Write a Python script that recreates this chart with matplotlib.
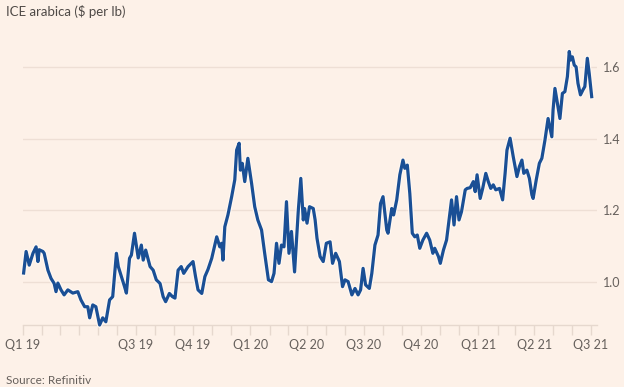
import numpy as np
import matplotlib
matplotlib.use("Agg")
import matplotlib.pyplot as plt
import matplotlib.patheffects as pe

# ---- data ----
# days since 2019-01-01
days = [1, 5, 10, 16, 21, 24, 26, 32, 34, 40, 45, 50, 53, 56, 61, 66, 72, 80, 88, 93,
        99, 104, 107, 112, 117, 123, 128, 133, 139, 144, 150, 153, 158, 163, 166, 171,
        174, 179, 185, 190, 193, 197, 204, 209, 214, 220, 225, 229, 235, 240, 244, 249,
        254, 258, 265, 273, 277, 281, 287, 292, 297, 303, 311, 316, 319, 321, 324, 329,
        335, 340, 343, 347, 349, 352, 356, 361, 367, 372, 377, 383, 388, 394, 399, 403,
        407, 411, 415, 419, 423, 427, 431, 436, 442, 446, 450, 452, 456, 460, 466, 469,
        472, 477, 482, 487, 493, 497, 502, 508, 513, 517, 522, 528, 533, 538, 542, 546,
        550, 556, 560, 565, 570, 574, 578, 584, 586, 592, 595, 600, 605, 610, 613, 617,
        621, 625, 629, 633, 637, 642, 648, 653, 658, 661, 667, 670, 675, 680, 684, 688,
        692, 696, 700, 704, 710, 713, 718, 723, 726, 729, 734, 738, 743, 747, 751, 755,
        759, 765, 770, 774, 777, 782, 787, 793, 797, 801, 804, 809, 813, 817, 819, 824,
        829, 833, 838, 843, 849, 851, 854, 858, 862, 866, 870, 874, 877, 879, 882, 885,
        888, 891, 895, 899, 902, 906, 909, 913]
price = [1.025, 1.085, 1.047, 1.080, 1.098, 1.057, 1.090, 1.085, 1.080, 1.033, 1.010,
         0.996, 0.973, 0.997, 0.978, 0.964, 0.978, 0.969, 0.973, 0.950, 0.931, 0.931,
         0.900, 0.936, 0.931, 0.880, 0.900, 0.889, 0.950, 0.959, 1.080, 1.043, 1.015,
         0.987, 0.969, 1.066, 1.075, 1.136, 1.067, 1.103, 1.061, 1.089, 1.043, 1.033,
         1.006, 0.996, 0.959, 0.945, 0.968, 0.959, 0.955, 1.033, 1.043, 1.024, 1.043,
         1.057, 1.015, 0.978, 0.968, 1.015, 1.035, 1.066, 1.126, 1.098, 1.108, 1.061,
         1.154, 1.187, 1.238, 1.285, 1.368, 1.387, 1.312, 1.331, 1.280, 1.345, 1.275,
         1.210, 1.173, 1.145, 1.080, 1.006, 1.001, 1.024, 1.108, 1.052, 1.103, 1.098,
         1.224, 1.080, 1.141, 1.028, 1.200, 1.289, 1.173, 1.205, 1.164, 1.210, 1.205,
         1.173, 1.122, 1.071, 1.057, 1.108, 1.112, 1.052, 1.080, 1.057, 0.987, 1.006,
         1.001, 0.964, 0.982, 0.964, 0.978, 1.038, 0.992, 0.982, 1.024, 1.103, 1.131,
         1.219, 1.238, 1.145, 1.136, 1.205, 1.187, 1.229, 1.299, 1.340, 1.317, 1.326,
         1.247, 1.136, 1.126, 1.131, 1.094, 1.117, 1.136, 1.117, 1.080, 1.094, 1.071,
         1.052, 1.089, 1.117, 1.173, 1.229, 1.159, 1.238, 1.173, 1.196, 1.257, 1.261,
         1.263, 1.280, 1.252, 1.299, 1.233, 1.261, 1.303, 1.280, 1.261, 1.271, 1.257,
         1.261, 1.229, 1.303, 1.368, 1.401, 1.350, 1.294, 1.322, 1.340, 1.303, 1.312,
         1.289, 1.243, 1.233, 1.285, 1.331, 1.345, 1.396, 1.456, 1.405, 1.480, 1.540,
         1.498, 1.456, 1.526, 1.531, 1.573, 1.643, 1.619, 1.628, 1.605, 1.600, 1.554,
         1.522, 1.536, 1.545, 1.624, 1.582, 1.517]

quarter_labels = ["Q1 19", "", "Q3 19", "Q4 19", "Q1 20", "Q2 20", "Q3 20", "Q4 20",
                  "Q1 21", "Q2 21", "Q3 21"]
y_ticks = [1.0, 1.2, 1.4, 1.6]
title = "ICE arabica ($ per lb)"
source = "Source: Refinitiv"

# ---- styling ----
BG = "#FDF1E8"
GRID = "#EEDFD5"
LINE = "#1A4F95"
TEXT = "#66605C"

plt.rcParams["font.family"] = ["Lato", "DejaVu Sans"]

start = np.datetime64("2019-01-01")
dates = start + np.array(days).astype("timedelta64[D]")
x_num = (dates - start).astype(int)

fig = plt.figure(figsize=(6.24, 3.87), dpi=100, facecolor=BG)
ax = fig.add_axes([23 / 624, 1 - 325 / 387, (597 - 23) / 624, (325 - 40) / 387])
ax.set_facecolor(BG)

ax.plot(x_num, price, color=LINE, lw=2.3, solid_joinstyle="round", clip_on=False,
        path_effects=[pe.Stroke(linewidth=4.0, foreground="#FFF8F2"), pe.Normal()], zorder=3)

# x axis: monthly ticks, quarterly labels
months = np.arange(np.datetime64("2019-01"), np.datetime64("2021-08"), np.timedelta64(1, "M"))
month_days = (months.astype("datetime64[D]") - start).astype(int)
ax.set_xticks(month_days)
labels = []
q_iter = iter(quarter_labels)
for m in months:
    mi = int(str(m)[5:7])
    labels.append(next(q_iter) if mi in (1, 4, 7, 10) else "")
ax.set_xticklabels(labels)
ax.set_xlim(0, (597 - 23.3) * 1.6063)
ax.set_ylim(0.880, 1.675)

ax.set_yticks(y_ticks)
ax.set_yticklabels([f"{v:.1f}" for v in y_ticks])
ax.yaxis.tick_right()
ax.grid(axis="y", color=GRID, lw=1.0)
ax.set_axisbelow(True)

for s in ["top", "left", "right"]:
    ax.spines[s].set_visible(False)
ax.spines["bottom"].set_color("#E6D8CE")
ax.spines["bottom"].set_linewidth(1.0)

ax.tick_params(axis="x", length=7, width=1, color="#E6D8CE", labelsize=9,
               labelcolor=TEXT, pad=3)
ax.tick_params(axis="y", length=0, labelsize=9, labelcolor=TEXT, pad=4)

fig.text(6 / 624, 1 - 12 / 387, title, fontsize=9.5, color="#4F4A47", va="center", ha="left")
fig.text(6 / 624, 1 - 380 / 387, source, fontsize=8.5, color=TEXT, va="center", ha="left")

fig.savefig("out.png", dpi=100, facecolor=BG)
